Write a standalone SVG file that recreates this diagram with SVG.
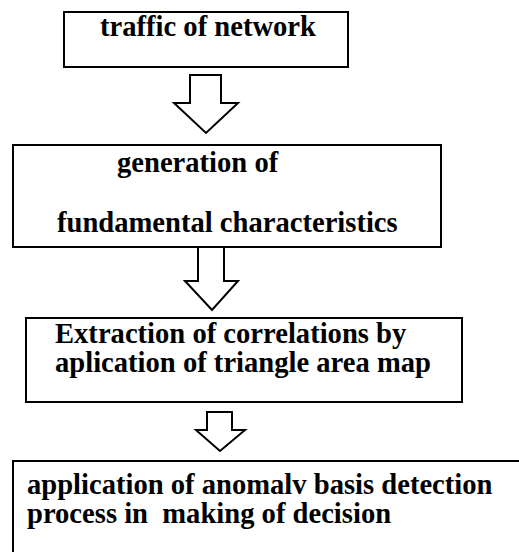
<svg xmlns="http://www.w3.org/2000/svg" width="519" height="552" viewBox="0 0 519 552">
<style>
.box{fill:#fff;stroke:#000;stroke-width:2}
.arr{fill:#fff;stroke:#000;stroke-width:2;stroke-linejoin:miter}
text{font-family:'Liberation Serif','DejaVu Serif',serif;font-weight:700;font-size:28.6px;fill:#000}
</style>
<rect width="519" height="552" fill="#fff"/>
<g id="node-traffic">
<rect class="box" x="64" y="12" width="284" height="55"/>
<text x="100" y="36">traffic of network</text>
</g>
<g id="node-generation">
<rect class="box" x="13" y="145" width="428" height="102"/>
<text x="117" y="172">generation of</text>
<text x="57" y="232">fundamental characteristics</text>
</g>
<g id="node-extraction">
<rect class="box" x="26" y="318" width="436" height="84"/>
<text x="55" y="343">Extraction of correlations by</text>
<text x="55" y="372">aplication of triangle area map</text>
</g>
<g id="node-application">
<rect class="box" x="13" y="461" width="520" height="100"/>
<text x="27" y="494">application of anomalv basis detection</text>
<text x="27" y="523" xml:space="preserve">process in  making of decision</text>
</g>
<g id="connectors">
<path class="arr" d="M190,75 H221 V103 H238 L206,133 L174,103 H190 Z"/>
<path class="arr" d="M198,247 H224 V281 H238 L212,310 L185,281 H198 Z"/>
<path class="arr" d="M207,412 H232 V430 H245 L220,451 L196,430 H207 Z"/>
</g>
</svg>
